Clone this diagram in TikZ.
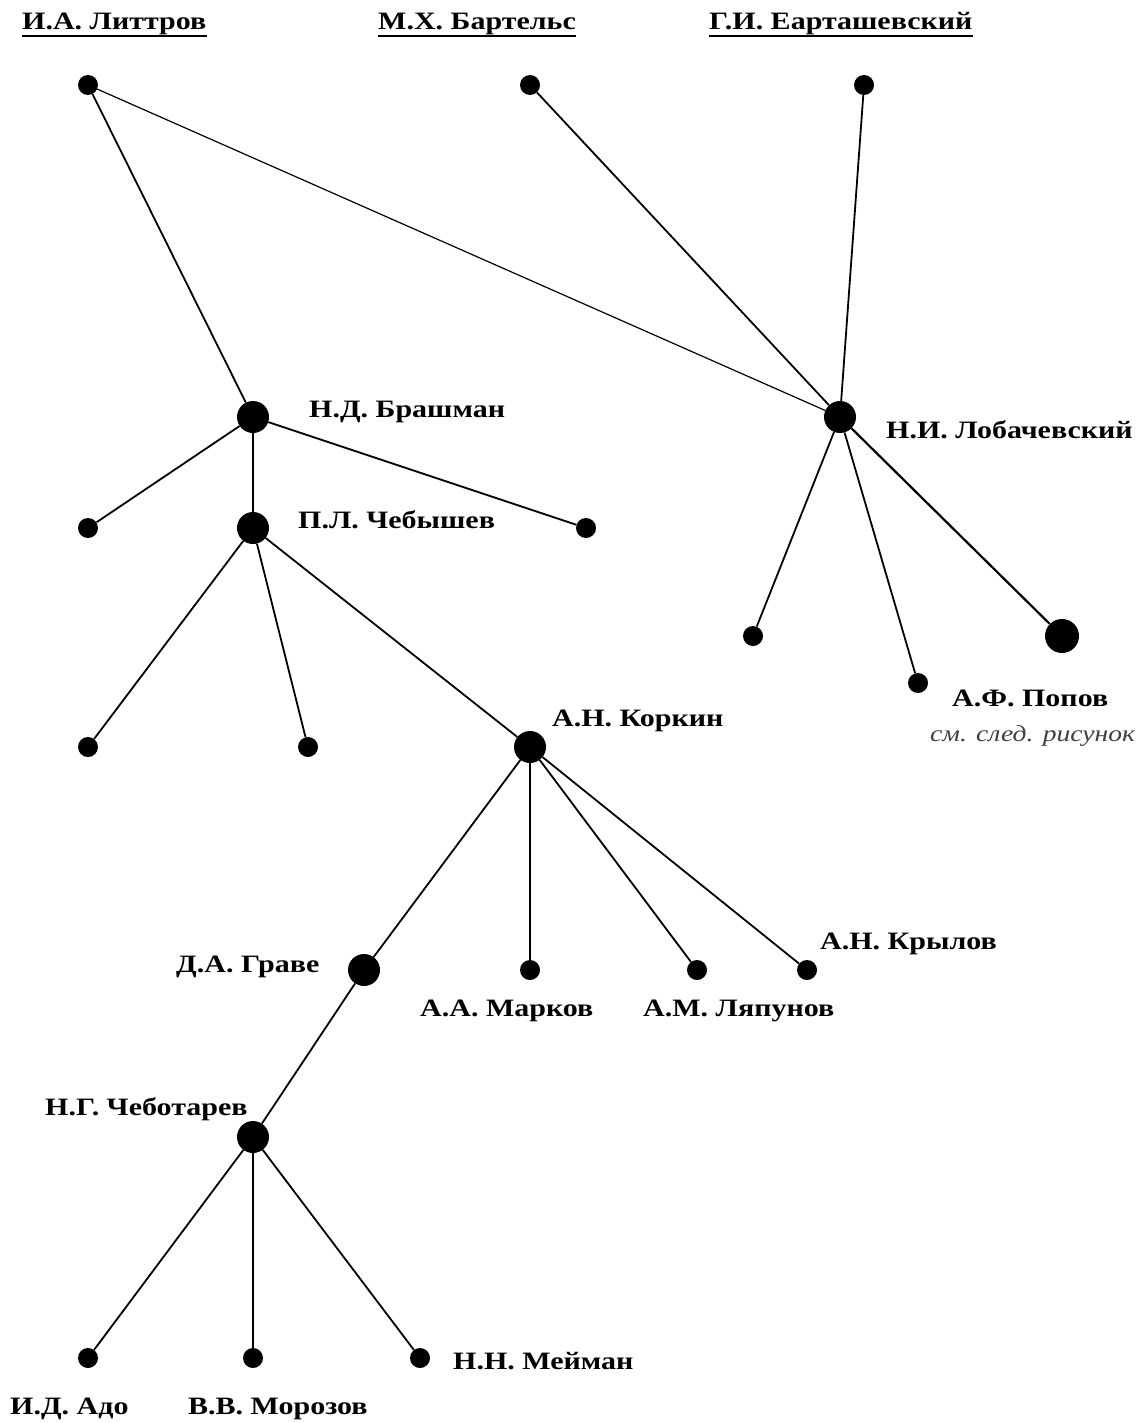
\documentclass[tikz,border=0pt]{standalone}
\usepackage{fontspec}
\setmainfont[FakeStretch=1.2]{Liberation Serif}
\begin{document}
\begin{tikzpicture}[x=1pt,y=-1pt,
  big/.style={circle,fill=black,inner sep=0pt,minimum size=32pt},
  small/.style={circle,fill=black,inner sep=0pt,minimum size=20pt},
  lbl/.style={inner sep=0pt,anchor=base west,font=\bfseries\fontsize{25}{30}\selectfont},
  note/.style={inner sep=0pt,anchor=base west,font=\itshape\fontsize{23}{28}\selectfont,text=black!75},
  edge/.style={line width=1.8pt},
  uline/.style={line width=2pt}]
\useasboundingbox (0,0) rectangle (1147,1423);
% headers
\node[lbl] (hL) at (22,30) {И.А. Литтров};
\node[lbl] (hB) at (378,30) {М.Х. Бартельс};
\node[lbl] (hE) at (709,30) {Г.И. Еарташевский};
\foreach \h in {hL,hB,hE}
  \draw[uline] ([yshift=-6pt]\h.base west) -- ([yshift=-6pt]\h.base east);
% dots
\node[small] (lit) at (88,85) {};
\node[small] (bar) at (530,85) {};
\node[small] (ear) at (864,85) {};
\node[big] (bra) at (253,417) {};
\node[big] (lob) at (840,417) {};
\node[small] (b1) at (88,528) {};
\node[small] (b2) at (586,528) {};
\node[big] (che) at (253,528) {};
\node[small] (c1) at (88,747) {};
\node[small] (c2) at (308,747) {};
\node[big] (kor) at (530,747) {};
\node[small] (l1) at (753,636) {};
\node[small] (pop) at (918,683) {};
\node[big,minimum size=34pt] (l3) at (1062,636) {};
\node[big] (gra) at (364,970) {};
\node[small] (mar) at (530,970) {};
\node[small] (lya) at (697,970) {};
\node[small] (kry) at (807,970) {};
\node[big] (cht) at (253,1137) {};
\node[small] (ado) at (88,1358) {};
\node[small] (mor) at (253,1358) {};
\node[small] (mei) at (420,1358) {};
% labels
\node[lbl] (tBra) at (309,417) {Н.Д. Брашман};
\node[lbl] (tChe) at (298,528) {П.Л. Чебышев};
\node[lbl] (tLob) at (886,438) {Н.И. Лобачевский};
\node[lbl] (tPop) at (952,706) {А.Ф. Попов};
\node[note] (tNote) at (930,741) {см. след. рисунок};
\node[lbl] (tKor) at (552,726) {А.Н. Коркин};
\node[lbl] (tGra) at (176,972) {Д.А. Граве};
\node[lbl] (tMar) at (420,1016) {А.А. Марков};
\node[lbl] (tLya) at (643,1016) {А.М. Ляпунов};
\node[lbl] (tKry) at (820,949) {А.Н. Крылов};
\node[lbl] (tCht) at (45,1115) {Н.Г. Чеботарев};
\node[lbl] (tMei) at (453,1369) {Н.Н. Мейман};
\node[lbl] (tAdo) at (10,1414) {И.Д. Адо};
\node[lbl] (tMor) at (188,1414) {В.В. Морозов};
% edges
\draw[edge] (lit) -- (bra);
\draw[edge,line width=1.2pt] (lit) -- (lob);
\draw[edge] (bar) -- (lob);
\draw[edge] (ear) -- (lob);
\draw[edge] (bra) -- (b1);
\draw[edge] (bra) -- (b2);
\draw[edge] (bra) -- (che);
\draw[edge] (che) -- (c1);
\draw[edge] (che) -- (c2);
\draw[edge] (che) -- (kor);
\draw[edge] (lob) -- (l1);
\draw[edge] (lob) -- (pop);
\draw[edge,line width=2.2pt] (lob) -- (l3);
\draw[edge] (kor) -- (gra);
\draw[edge] (kor) -- (mar);
\draw[edge] (kor) -- (lya);
\draw[edge] (kor) -- (kry);
\draw[edge] (gra) -- (cht);
\draw[edge] (cht) -- (ado);
\draw[edge] (cht) -- (mor);
\draw[edge] (cht) -- (mei);
\end{tikzpicture}
\end{document}
